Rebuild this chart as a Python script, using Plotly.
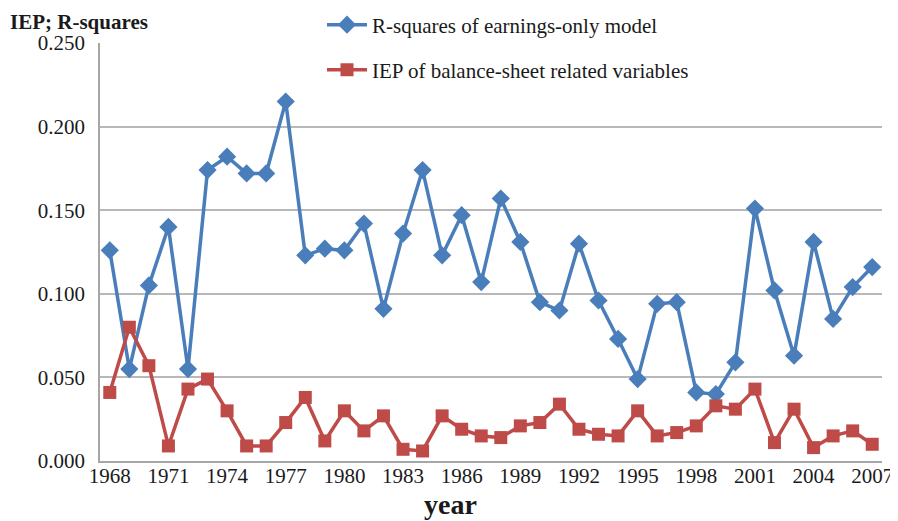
import plotly.graph_objects as go

years = list(range(1968, 2008))

r_squares = [
    0.126, 0.055, 0.105, 0.140, 0.055, 0.174, 0.182, 0.172, 0.172, 0.215,
    0.123, 0.127, 0.126, 0.142, 0.091, 0.136, 0.174, 0.123, 0.147, 0.107,
    0.157, 0.131, 0.095, 0.090, 0.130, 0.096, 0.073, 0.049, 0.094, 0.095,
    0.041, 0.040, 0.059, 0.151, 0.102, 0.063, 0.131, 0.085, 0.104, 0.116,
]

iep_balance = [
    0.041, 0.080, 0.057, 0.009, 0.043, 0.049, 0.030, 0.009, 0.009, 0.023,
    0.038, 0.012, 0.030, 0.018, 0.027, 0.007, 0.006, 0.027, 0.019, 0.015,
    0.014, 0.021, 0.023, 0.034, 0.019, 0.016, 0.015, 0.030, 0.015, 0.017,
    0.021, 0.033, 0.031, 0.043, 0.011, 0.031, 0.008, 0.015, 0.018, 0.010,
]

x_ticks = list(range(1968, 2008, 3)) + [2007]
y_ticks = [0.0, 0.05, 0.10, 0.15, 0.20, 0.25]

BLUE = "#4A7EBB"
RED = "#BE4B48"
FONT = "Liberation Serif, Times New Roman, serif"
TEXT = "#1a1a1a"

# the page body adds an 8px offset; figure size chosen so the plot lands where the reference has it
FIG_W, FIG_H = 890, 513
M_L, M_R, M_T, M_B = 92, 16, 35, 60
PLOT_W = FIG_W - M_L - M_R
PLOT_H = FIG_H - M_T - M_B


def px_x(fx):
    return (fx - M_L) / PLOT_W


def px_y(fy):
    return (M_T + PLOT_H - fy) / PLOT_H


fig = go.Figure()
fig.add_trace(
    go.Scatter(
        x=years,
        y=r_squares,
        mode="lines+markers",
        name="R-squares of earnings-only model",
        line=dict(color=BLUE, width=3.5),
        marker=dict(symbol="diamond", size=14, color=BLUE),
        legend="legend",
    )
)
fig.add_trace(
    go.Scatter(
        x=years,
        y=iep_balance,
        mode="lines+markers",
        name="IEP of balance-sheet related variables",
        line=dict(color=RED, width=3.5),
        marker=dict(symbol="square", size=13, color=RED),
        legend="legend2",
    )
)

legend_style = dict(
    font=dict(family=FONT, size=21, color=TEXT),
    bgcolor="rgba(255,255,255,0)",
    xanchor="left",
    yanchor="middle",
    itemwidth=40,
    tracegroupgap=0,
)

fig.update_layout(
    width=FIG_W,
    height=FIG_H,
    margin=dict(l=M_L, r=M_R, t=M_T, b=M_B, autoexpand=False),
    plot_bgcolor="white",
    paper_bgcolor="white",
    showlegend=True,
    font=dict(family=FONT, size=21, color=TEXT),
    legend=dict(x=px_x(314), y=px_y(17), **legend_style),
    legend2=dict(x=px_x(314), y=px_y(62), **legend_style),
    xaxis=dict(
        range=[1967.5, 2007.5],
        tickvals=x_ticks,
        ticktext=[str(v) for v in x_ticks],
        showgrid=False,
        showline=True,
        linecolor="#A6A6A6",
        linewidth=1.5,
        ticks="",
        zeroline=False,
        automargin=False,
        ticklabeloverflow="allow",
        ticklabelstandoff=-5,
    ),
    yaxis=dict(
        range=[0, 0.25],
        tickvals=y_ticks,
        tickformat=".3f",
        showgrid=True,
        gridcolor="#B8B8B8",
        gridwidth=1.5,
        showline=True,
        linecolor="#A6A6A6",
        linewidth=1.5,
        ticks="",
        ticklabelstandoff=9,
        zeroline=False,
        automargin=False,
    ),
)

fig.add_annotation(
    text="<b>IEP; R-squares</b>",
    xref="paper",
    yref="paper",
    x=px_x(0),
    y=px_y(0),
    xanchor="left",
    yanchor="top",
    showarrow=False,
    font=dict(family=FONT, size=21, color=TEXT),
)

fig.add_annotation(
    text="<b>year</b>",
    xref="paper",
    yref="paper",
    x=px_x(442),
    y=px_y(497),
    xanchor="center",
    yanchor="middle",
    showarrow=False,
    font=dict(family=FONT, size=28, color=TEXT),
)

fig.write_html("out.html")
